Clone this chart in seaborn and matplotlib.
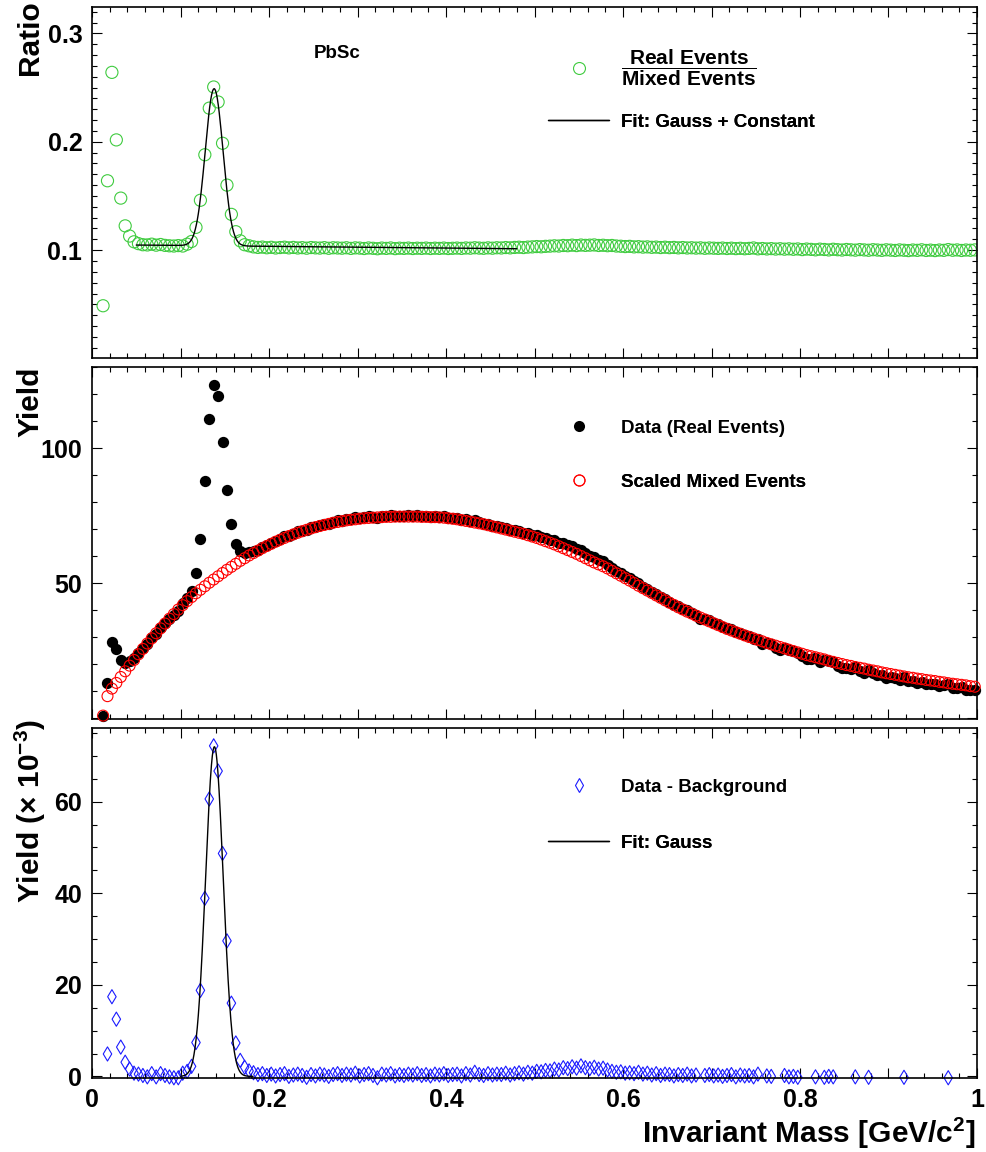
import numpy as np
import matplotlib
matplotlib.use("Agg")
import matplotlib.pyplot as plt
import seaborn as sns
from matplotlib.ticker import MultipleLocator, FuncFormatter
from matplotlib.lines import Line2D

# ---------------- data ----------------
# histogram bin centres: 198 bins of width 0.005 GeV/c^2 starting at 0.0125
mass = np.round(np.arange(198) * 0.005 + 0.0125, 4)

ratio = [
    0.0487, 0.164, 0.264, 0.2017, 0.148, 0.1224, 0.113, 0.1077, 0.1060, 0.1050,
    0.1048, 0.1055, 0.1046, 0.1052, 0.1044, 0.1040, 0.1038, 0.1042, 0.1038, 0.1055,
    0.1080, 0.121, 0.146, 0.188, 0.231, 0.2505, 0.2367, 0.1986, 0.160, 0.133,
    0.117, 0.1086, 0.1050, 0.1040,
    0.1030, 0.1025, 0.1028, 0.1022, 0.1026, 0.1020, 0.1024, 0.1027, 0.1021, 0.1025,
    0.1020, 0.1023, 0.1018, 0.1024, 0.1021, 0.1019, 0.1023, 0.1017, 0.1022, 0.1020,
    0.1018, 0.1022, 0.1016, 0.1021, 0.1019, 0.1015, 0.1020, 0.1017, 0.1013, 0.1019,
    0.1016, 0.1020, 0.1014, 0.1018, 0.1016, 0.1019, 0.1015, 0.1018, 0.1016, 0.1019,
    0.1015, 0.1018, 0.1016, 0.1019, 0.1015, 0.1017, 0.1019, 0.1016, 0.1020, 0.1018,
    0.1022, 0.1019, 0.1017, 0.1021, 0.1018, 0.1022, 0.1020, 0.1024, 0.1021, 0.1025,
    0.1027, 0.1024, 0.1028, 0.1030, 0.1033, 0.1031, 0.1035, 0.1037, 0.1040, 0.1038,
    0.1043, 0.1041, 0.1046, 0.1042, 0.1047, 0.1044, 0.1046, 0.1048, 0.1043, 0.1045,
    0.1041, 0.1043, 0.1038, 0.1036, 0.1033, 0.1035, 0.1030, 0.1032, 0.1028, 0.1030,
    0.1026, 0.1028, 0.1024, 0.1027, 0.1023, 0.1025, 0.1021, 0.1024, 0.1020, 0.1022,
    0.1019, 0.1021, 0.1017, 0.1020, 0.1018, 0.1016, 0.1019, 0.1015, 0.1018, 0.1014,
    0.1017, 0.1013, 0.1016, 0.1020, 0.1012, 0.1015, 0.1011, 0.1014, 0.1010, 0.1013,
    0.1009, 0.1012, 0.1008, 0.1011, 0.1005, 0.1010, 0.1007, 0.1003, 0.1009, 0.1006,
    0.1002, 0.1008, 0.1004, 0.1001, 0.1006, 0.1003, 0.1000, 0.1005, 0.1002, 0.0999,
    0.1004, 0.1001, 0.0998, 0.1003, 0.1000, 0.0997, 0.1002, 0.0999, 0.0996, 0.1001,
    0.0998, 0.1003, 0.0997, 0.1000, 0.0996, 0.1001, 0.0998, 0.1005, 0.0999, 0.1002,
    0.0997, 0.1001, 0.0999, 0.1002,
]

real_events = [
    0.8, 13.1, 28.4, 25.6, 21.7, 20.5, 21.1, 22.3, 24.2, 25.9,
    27.6, 30.2, 31.4, 33.9, 35.3, 36.8, 38.3, 39.9, 42.6, 44.5,
    47.1, 53.7, 66.4, 87.8, 110.8, 123.6, 119.3, 102.5, 84.6, 72.1,
    64.5, 61.8, 61.3, 61.5, 62.0, 62.5, 63.6, 64.0, 65.1, 65.5,
    66.5, 67.4, 67.5, 68.4, 69.2, 69.5, 69.6, 70.7, 70.9, 71.7,
    71.9, 72.0, 72.8, 73.3, 73.2, 73.8, 73.8, 74.4, 74.0, 74.5,
    74.8, 74.5, 74.1, 75.0, 74.9, 75.2, 74.8, 75.1, 74.9, 75.2,
    75.0, 75.3, 74.8, 75.0, 74.6, 75.0, 74.7, 74.9, 74.3, 74.3,
    74.2, 73.5, 73.7, 73.1, 73.4, 72.6, 72.1, 72.1, 71.4, 71.2,
    70.7, 70.6, 69.8, 69.7, 69.5, 68.8, 68.7, 68.0, 67.9, 67.2,
    66.9, 66.2, 66.0, 65.1, 64.9, 64.0, 63.7, 62.7, 62.4, 61.2,
    60.2, 59.7, 58.6, 58.1, 56.9, 55.7, 54.6, 53.8, 52.6, 51.8,
    50.7, 50.0, 48.7, 48.0, 46.7, 46.1, 44.8, 44.2, 43.2, 42.1,
    41.5, 40.5, 40.0, 38.9, 38.3, 36.6, 36.8, 36.3, 35.3, 34.8,
    33.8, 33.3, 32.9, 31.8, 31.6, 30.8, 30.3, 29.5, 29.5, 27.7,
    28.0, 27.4, 26.0, 25.3, 26.1, 25.3, 24.9, 24.2, 22.9, 22.1,
    21.8, 22.5, 20.8, 21.6, 21.3, 20.8, 19.5, 18.6, 18.8, 18.1,
    18.9, 17.5, 16.8, 17.8, 16.6, 16.0, 16.1, 15.0, 15.2, 15.1,
    14.3, 15.3, 13.9, 13.9, 13.1, 13.6, 12.8, 12.8, 12.8, 12.0,
    12.2, 12.7, 11.4, 11.4, 11.5, 10.6, 10.6, 10.6,
]

mixed_scaled = [
    1.0, 8.2, 11.0, 13.1, 15.3, 17.4, 19.5, 21.6, 23.7, 25.7,
    27.7, 29.6, 31.5, 33.3, 35.1, 36.9, 38.6, 40.3, 41.9, 43.4,
    44.9, 46.3, 47.6, 48.9, 50.2, 51.4, 52.6, 53.8, 55.0, 56.1,
    57.2, 58.3, 59.3, 60.3, 61.2, 62.1, 63.0, 63.8, 64.6, 65.4,
    66.1, 66.8, 67.5, 68.1, 68.7, 69.3, 69.8, 70.3, 70.8, 71.2,
    71.6, 72.0, 72.4, 72.7, 73.0, 73.3, 73.5, 73.7, 73.9, 74.1,
    74.2, 74.3, 74.4, 74.5, 74.6, 74.6, 74.7, 74.7, 74.7, 74.7,
    74.7, 74.7, 74.6, 74.6, 74.5, 74.5, 74.4, 74.3, 74.1, 73.9,
    73.7, 73.4, 73.1, 72.8, 72.5, 72.2, 71.9, 71.5, 71.1, 70.7,
    70.3, 69.9, 69.5, 69.1, 68.7, 68.3, 67.8, 67.3, 66.8, 66.2,
    65.6, 65.0, 64.4, 63.7, 63.0, 62.3, 61.6, 60.9, 60.1, 59.3,
    58.5, 57.7, 57.0, 56.3, 55.5, 54.6, 53.7, 52.8, 51.9, 51.0,
    50.1, 49.1, 48.2, 47.3, 46.4, 45.5, 44.6, 43.7, 42.8, 42.0,
    41.1, 40.3, 39.5, 38.8, 38.0, 37.3, 36.6, 35.9, 35.2, 34.5,
    33.8, 33.1, 32.5, 31.9, 31.3, 30.7, 30.1, 29.6, 29.0, 28.5,
    27.9, 27.4, 26.9, 26.4, 25.9, 25.4, 24.9, 24.4, 23.9, 23.4,
    23.0, 22.6, 22.2, 21.8, 21.3, 20.9, 20.5, 20.1, 19.7, 19.4,
    19.0, 18.7, 18.4, 18.0, 17.7, 17.4, 17.0, 16.7, 16.4, 16.1,
    15.8, 15.5, 15.2, 15.0, 14.7, 14.5, 14.2, 14.0, 13.8, 13.5,
    13.3, 13.0, 12.8, 12.6, 12.4, 12.2, 11.9, 11.7,
]

# data - background, in units of 10^-3 (negative bins fall below the frame)
signal = [
    -0.6, 4.9, 17.4, 12.5, 6.4, 3.1, 1.6, 0.7, 0.5, 0.2,
    -0.1, 0.6, -0.1, 0.6, 0.2, -0.1, -0.3, -0.3, 0.7, 1.1,
    2.2, 7.4, 18.8, 38.9, 60.6, 72.2, 66.7, 48.7, 29.6, 16.0,
    7.3, 3.5, 2.0, 1.2, 0.8, 0.4, 0.6, 0.2, 0.5, 0.1,
    0.4, 0.6, 0.0, 0.3, 0.5, 0.2, -0.2, 0.4, 0.1, 0.5,
    0.3, 0.0, 0.4, 0.6, 0.2, 0.5, 0.3, 0.7, 0.1, 0.4,
    0.6, 0.2, -0.3, 0.5, 0.3, 0.6, 0.1, 0.4, 0.2, 0.5,
    0.3, 0.6, 0.2, 0.4, 0.1, 0.5, 0.3, 0.6, 0.2, 0.4,
    0.5, 0.1, 0.6, 0.3, 0.9, 0.4, 0.2, 0.6, 0.3, 0.5,
    0.4, 0.7, 0.3, 0.6, 0.8, 0.5, 0.9, 0.7, 1.1, 1.0,
    1.3, 1.2, 1.6, 1.4, 1.9, 1.7, 2.1, 1.8, 2.3, 1.9,
    1.7, 2.0, 1.6, 1.8, 1.4, 1.1, 0.9, 1.0, 0.7, 0.8,
    0.6, 0.9, 0.5, 0.7, 0.3, 0.6, 0.2, 0.5, 0.4, 0.1,
    0.4, 0.2, 0.5, 0.1, 0.3, -0.7, 0.2, 0.4, 0.1, 0.3,
    0.0, 0.2, 0.4, -0.1, 0.3, 0.1, 0.2, -0.1, 0.5, -0.8,
    0.1, 0.0, -0.9, -1.1, 0.2, -0.1, 0.0, -0.2, -1.0, -1.3,
    -1.2, -0.1, -1.4, -0.2, 0.0, -0.1, -1.0, -1.5, -0.9, -1.3,
    -0.1, -1.2, -1.6, -0.2, -1.1, -1.4, -0.9, -1.7, -1.2, -1.0,
    -1.5, -0.2, -1.3, -1.1, -1.6, -0.9, -1.4, -1.2, -1.0, -1.5,
    -1.1, -0.3, -1.4, -1.2, -0.9, -1.6, -1.3, -1.1,
]

# fit results
ratio_fit_range = (0.05, 0.48)
ratio_fit_amp, ratio_fit_mean, ratio_fit_sigma = 0.145, 0.138, 0.0100
ratio_fit_const, ratio_fit_drift = 0.1047, -0.0079
sig_fit_range = (0.10, 0.182)
sig_fit_amp, sig_fit_mean, sig_fit_sigma = 72.0, 0.1383, 0.0099

x_tick_labels = ["0", "0.2", "0.4", "0.6", "0.8", "1"]

# ---------------- style ----------------
GREEN = "#3fcb3f"
RED = "#ff0000"
BLUE = "#1a1aff"

sns.set_theme(style="ticks")
plt.rcParams["font.family"] = ["Liberation Sans", "DejaVu Sans"]
plt.rcParams["font.weight"] = "bold"
plt.rcParams["mathtext.fontset"] = "custom"
plt.rcParams["mathtext.rm"] = "Liberation Sans:bold"
plt.rcParams["mathtext.bf"] = "Liberation Sans:bold"
plt.rcParams["mathtext.it"] = "Liberation Sans:bold:italic"
plt.rcParams["mathtext.sf"] = "Liberation Sans:bold"
plt.rcParams["text.color"] = "black"

W_PX, H_PX = 987, 1152
fig = plt.figure(figsize=(W_PX / 100, H_PX / 100), dpi=100)
fig.patch.set_facecolor("white")

LEFT, RIGHT = 92, 977


def rect(top, bot):
    return [LEFT / W_PX, 1 - bot / H_PX, (RIGHT - LEFT) / W_PX, (bot - top) / H_PX]


ax1 = fig.add_axes(rect(7, 358))
ax2 = fig.add_axes(rect(367, 719))
ax3 = fig.add_axes(rect(728, 1078))

# ---------- panel 1: ratio ----------
sns.scatterplot(x=mass, y=ratio, ax=ax1, marker="o", s=76, facecolor="none",
                edgecolor=GREEN, linewidth=0.8, zorder=2, legend=False)
xf1 = np.linspace(ratio_fit_range[0], ratio_fit_range[1], 400)
yf1 = (ratio_fit_const + ratio_fit_drift * (xf1 - ratio_fit_range[0])
       + ratio_fit_amp * np.exp(-0.5 * ((xf1 - ratio_fit_mean) / ratio_fit_sigma) ** 2))
sns.lineplot(x=xf1, y=yf1, ax=ax1, color="black", linewidth=1.0, zorder=3,
             estimator=None, sort=False, legend=False)
ax1.set_ylim(0.0005, 0.3243)

# ---------- panel 2: yields ----------
sns.scatterplot(x=mass, y=real_events, ax=ax2, marker="o", s=66, color="black",
                linewidth=0, zorder=2, legend=False, clip_on=False)
sns.scatterplot(x=mass, y=mixed_scaled, ax=ax2, marker="o", s=62, facecolor="none",
                edgecolor=RED, linewidth=0.8, zorder=3, legend=False, clip_on=False)
ax2.set_ylim(-0.26, 130.1)

# ---------- panel 3: signal ----------
P3_YMIN, P3_YMAX = -0.35, 76.1
sig = np.array(signal)
vis = sig >= P3_YMIN
sns.scatterplot(x=mass[vis], y=sig[vis], ax=ax3, marker="d", s=52, facecolor="none",
                edgecolor=BLUE, linewidth=0.8, zorder=2, legend=False, clip_on=False)
xf3 = np.linspace(sig_fit_range[0], sig_fit_range[1], 400)
yf3 = sig_fit_amp * np.exp(-0.5 * ((xf3 - sig_fit_mean) / sig_fit_sigma) ** 2)
sns.lineplot(x=xf3, y=yf3, ax=ax3, color="black", linewidth=1.0, zorder=3,
             estimator=None, sort=False, legend=False)
ax3.set_ylim(P3_YMIN, P3_YMAX)

# ---------- axes styling ----------
def xfmt(v, pos):
    k = v / 0.2
    if abs(k - round(k)) > 1e-6:
        return ""
    i = int(round(k))
    return x_tick_labels[i] if 0 <= i < len(x_tick_labels) else ""


for ax in (ax1, ax2, ax3):
    ax.set_xlim(0, 1)
    ax.set_xlabel("")
    ax.set_ylabel("")
    ax.xaxis.set_major_locator(MultipleLocator(0.1))
    ax.xaxis.set_minor_locator(MultipleLocator(0.02))
    ax.xaxis.set_major_formatter(FuncFormatter(xfmt))
    ax.tick_params(which="both", direction="in", top=True, right=True,
                   bottom=True, left=True, width=0.8, color="black",
                   labelcolor="black")
    ax.tick_params(which="major", length=7.5)
    ax.tick_params(which="minor", length=3.8)
    ax.tick_params(axis="both", which="major", labelsize=18, pad=7)
    for sp in ax.spines.values():
        sp.set_linewidth(1.2)
        sp.set_color("black")
    ax.set_facecolor("white")
    for lab in ax.get_xticklabels() + ax.get_yticklabels():
        lab.set_fontweight("bold")

ax1.tick_params(labelbottom=False)
ax2.tick_params(labelbottom=False)

ax1.yaxis.set_major_locator(MultipleLocator(0.1))
ax1.yaxis.set_minor_locator(MultipleLocator(0.01))
ax1.yaxis.set_major_formatter(FuncFormatter(lambda v, p: f"{v:.1f}"))

ax2.yaxis.set_major_locator(MultipleLocator(50))
ax2.yaxis.set_minor_locator(MultipleLocator(10))
ax2.yaxis.set_major_formatter(FuncFormatter(lambda v, p: "" if v <= 0 else f"{v:.0f}"))

ax3.yaxis.set_major_locator(MultipleLocator(20))
ax3.yaxis.set_minor_locator(MultipleLocator(5))
ax3.yaxis.set_major_formatter(FuncFormatter(lambda v, p: f"{v:.0f}"))

# ---------- legends (one per entry, ROOT style) ----------
LEG_X = (548 - LEFT) / (RIGHT - LEFT)
LEG_FS = 13.5
HANDLE_PX, PAD_PX = 61, 12


def entry(ax, handle, label, ycen, fs=LEG_FS):
    fpx = fs * 100 / 72
    leg = ax.legend([handle], [label], loc="center left", bbox_to_anchor=(LEG_X, ycen),
                    bbox_transform=ax.transAxes, frameon=False, borderpad=0,
                    borderaxespad=0, handlelength=HANDLE_PX / fpx,
                    handletextpad=PAD_PX / fpx,
                    prop={"weight": "bold", "size": fs})
    ax.add_artist(leg)


def yc(px, top, bot):
    return 1 - (px - top) / (bot - top)


h_green = Line2D([], [], ls="none", marker="o", markersize=8.6, mfc="none", mec=GREEN, mew=0.8)
h_line = Line2D([], [], color="black", lw=1.0)
h_black = Line2D([], [], ls="none", marker="o", markersize=8.0, mfc="black", mec="black", mew=0)
h_red = Line2D([], [], ls="none", marker="o", markersize=7.9, mfc="none", mec=RED, mew=0.8)
h_blue = Line2D([], [], ls="none", marker="d", markersize=7.4, mfc="none", mec=BLUE, mew=0.8)

entry(ax1, h_green, r"$\dfrac{\mathbf{Real\ Events}}{\mathbf{Mixed\ Events}}$",
      yc(68, 7, 358), fs=15.0)
entry(ax1, h_line, "Fit: Gauss + Constant", yc(122, 7, 358))
entry(ax2, h_black, "Data (Real Events)", yc(428, 367, 719))
entry(ax2, h_red, "Scaled Mixed Events", yc(482, 367, 719))
entry(ax3, h_blue, "Data - Background", yc(787, 728, 1078))
entry(ax3, h_line, "Fit: Gauss", yc(843, 728, 1078))

ax1.text((337 - LEFT) / (RIGHT - LEFT), yc(53, 7, 358), "PbSc", transform=ax1.transAxes,
         ha="center", va="center", fontsize=13.5, fontweight="bold")

# ---------- axis titles ----------
TITLE_FS = 21.5
fig.text(30 / W_PX, 1 - 0 / H_PX, "Ratio", rotation=90, ha="center", va="top",
         fontsize=TITLE_FS, fontweight="bold")
fig.text(30 / W_PX, 1 - 367 / H_PX, "Yield", rotation=90, ha="center", va="top",
         fontsize=TITLE_FS, fontweight="bold")
fig.text(30 / W_PX, 1 - 719 / H_PX, r"Yield ($\times$ 10$^{-3}$)", rotation=90,
         ha="center", va="top", fontsize=TITLE_FS, fontweight="bold")
fig.text(975 / W_PX, 1 - 1133 / H_PX, r"Invariant Mass [GeV/c$^{2}$]", ha="right",
         va="center", fontsize=TITLE_FS, fontweight="bold")

fig.savefig("out.png", dpi=100, facecolor="white")
